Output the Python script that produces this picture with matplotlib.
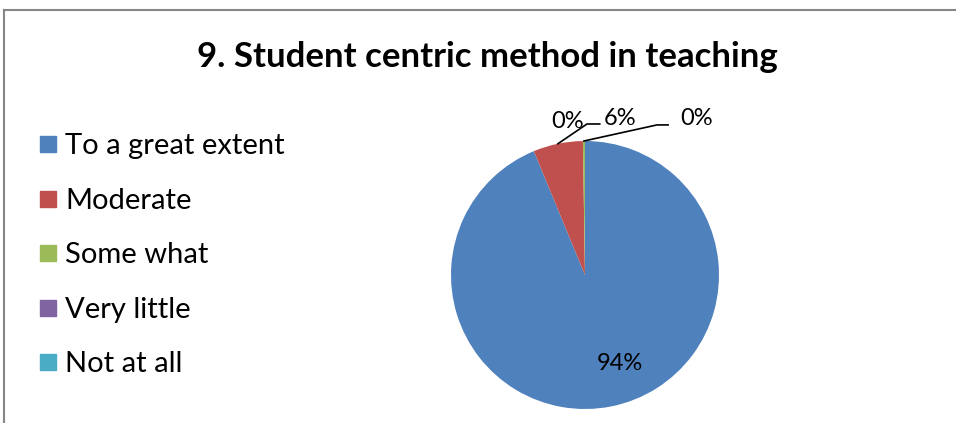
import numpy as np
import matplotlib
matplotlib.use("Agg")
import matplotlib.pyplot as plt
from matplotlib.lines import Line2D

plt.rcParams['font.family'] = ['Lato', 'DejaVu Sans']

categories = ['To a great extent', 'Moderate', 'Some what', 'Very little', 'Not at all']
values = [94, 6, 0.25, 0, 0]
pct_labels = ['94%', '6%', '0%', '0%', '0%']
colors = ['#4F81BD', '#C0504D', '#9BBB59', '#8064A2', '#4BACC6']

fig = plt.figure(figsize=(9.56, 4.23), dpi=100)

# chart border (gray frame, only top and left visible)
fig.add_artist(Line2D([4 / 956, 1.0], [1 - 10 / 423, 1 - 10 / 423], color='#868686', lw=1.5))
fig.add_artist(Line2D([4 / 956, 4 / 956], [0, 1 - 10 / 423], color='#868686', lw=1.5))

fig.text(487 / 956, 1 - 57 / 423, '9. Student centric method in teaching',
         ha='center', va='center', fontsize=25, fontweight='bold')

ax = fig.add_axes([(585 - 134) / 956, (423 - 409) / 423, 268 / 956, 268 / 423])
wedges, _ = ax.pie(values, colors=colors, startangle=90, counterclock=False,
                   wedgeprops=dict(linewidth=0))
ax.set_xlim(-1, 1)
ax.set_ylim(-1, 1)
ax.set_aspect('equal')
ax.axis('off')


def mid(w, r=1.0):
    a = np.deg2rad((w.theta1 + w.theta2) / 2)
    return r * np.cos(a), r * np.sin(a)


lab_kw = dict(fontsize=17, ha='center', va='center', annotation_clip=False)
# 94% inside
ax.annotate(pct_labels[0], xy=(0.26, -0.66), **lab_kw)
# 6% with leader
x0, y0 = mid(wedges[1])
ax.plot([x0, 0.015, 0.11], [y0, 1.127, 1.127], color='black', lw=1.2, clip_on=False)
ax.annotate(pct_labels[1], xy=(0.26, 1.165), **lab_kw)
# left 0%
ax.annotate(pct_labels[3], xy=(-0.13, 1.145), **lab_kw)
# right 0% with leader
x1, y1 = mid(wedges[2])
ax.plot([x1, 0.537, 0.62], [y1, 1.12, 1.12], color='black', lw=1.2, clip_on=False)
ax.annotate(pct_labels[2], xy=(0.83, 1.165), **lab_kw)

# legend
ys = [144, 199, 253, 308, 362]
for cat, col, y in zip(categories, colors, ys):
    fig.patches.append(plt.Rectangle((40 / 956, 1 - (y + 8) / 423), 16 / 956, 16 / 423,
                                     transform=fig.transFigure, color=col))
    fig.text(65 / 956, 1 - (y + 2) / 423, cat, ha='left', va='center', fontsize=21)

fig.savefig('out.png', dpi=100)
